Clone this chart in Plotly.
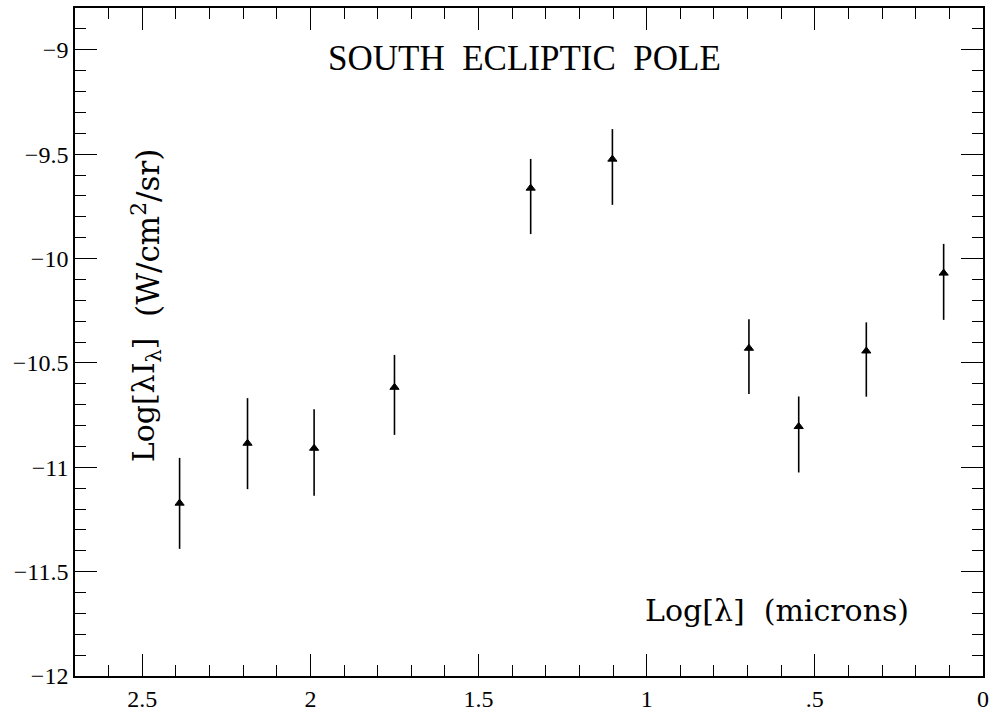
import plotly.graph_objects as go

# Data
log_lambda = [2.389, 2.187, 1.989, 1.750, 1.345, 1.102, 0.696, 0.548, 0.347, 0.117]
log_lambda_I = [-11.172, -10.885, -10.909, -10.617, -9.663, -9.524, -10.430, -10.805, -10.443, -10.070]
err_plus = [0.217, 0.216, 0.187, 0.155, 0.140, 0.144, 0.139, 0.144, 0.137, 0.140]
err_minus = [0.219, 0.220, 0.227, 0.228, 0.220, 0.219, 0.219, 0.220, 0.219, 0.224]

x_tickvals = [2.5, 2.0, 1.5, 1.0, 0.5, 0.0]
x_ticktext = ["2.5", "2", "1.5", "1", ".5", "0"]
y_tickvals = [-9, -9.5, -10, -10.5, -11, -11.5, -12]
y_ticktext = ["\u22129", "\u22129.5", "\u221210", "\u221210.5", "\u221211", "\u221211.5", "\u221212"]

TICKFONT = "Liberation Serif"
LABELFONT = "DejaVu Serif"

fig = go.Figure()
fig.add_trace(go.Scatter(
    x=log_lambda, y=log_lambda_I, mode="markers",
    marker=dict(symbol="triangle-up", size=8, color="black",
                line=dict(color="black", width=1)),
    error_y=dict(type="data", symmetric=False, array=err_plus, arrayminus=err_minus,
                 color="black", thickness=1.6, width=0),
    showlegend=False, hoverinfo="skip",
))

axis_common = dict(
    showline=True, linecolor="black", linewidth=1.6, mirror="allticks",
    ticks="inside", ticklen=22, tickwidth=1.3, tickcolor="black",
    showgrid=False, zeroline=False, automargin=False,
    tickfont=dict(family=TICKFONT, size=24, color="black"),
)
minor_common = dict(dtick=0.1, tick0=0, ticks="inside", ticklen=11, tickwidth=1.2,
                    tickcolor="black", showgrid=False)

fig.update_xaxes(range=[2.7, 0.0], tickvals=x_tickvals, ticktext=x_ticktext,
                 minor=minor_common, **axis_common)
fig.update_yaxes(range=[-12, -8.8], tickvals=y_tickvals, ticktext=y_ticktext,
                 minor=minor_common, **axis_common)

ann_common = dict(xref="paper", yref="paper", showarrow=False,
                  xanchor="center", yanchor="middle")
fig.add_annotation(text="SOUTH  ECLIPTIC  POLE", x=0.4945, y=0.925,
                   font=dict(family=TICKFONT, size=35, color="black"), **ann_common)
fig.add_annotation(text="Log[\u03bbI<sub>\u03bb</sub>]", x=0.078, y=0.414, textangle=-90,
                   font=dict(family=LABELFONT, size=30, color="black"), **ann_common)
fig.add_annotation(text="(W/cm<sup>2</sup>/sr)", x=0.078, y=0.663, textangle=-90,
                   font=dict(family=LABELFONT, size=31, color="black"), **ann_common)
fig.add_annotation(text="Log[\u03bb]  (microns)", x=0.7726, y=0.0988,
                   font=dict(family=LABELFONT, size=30, color="black"), **ann_common)

fig.update_layout(
    width=997, height=712,
    margin=dict(l=75, r=14, t=8, b=36),
    paper_bgcolor="white", plot_bgcolor="white",
)

fig.write_html("out.html", config={"displayModeBar": False},
               post_script="document.body.style.margin='0';document.body.style.padding='0';")
